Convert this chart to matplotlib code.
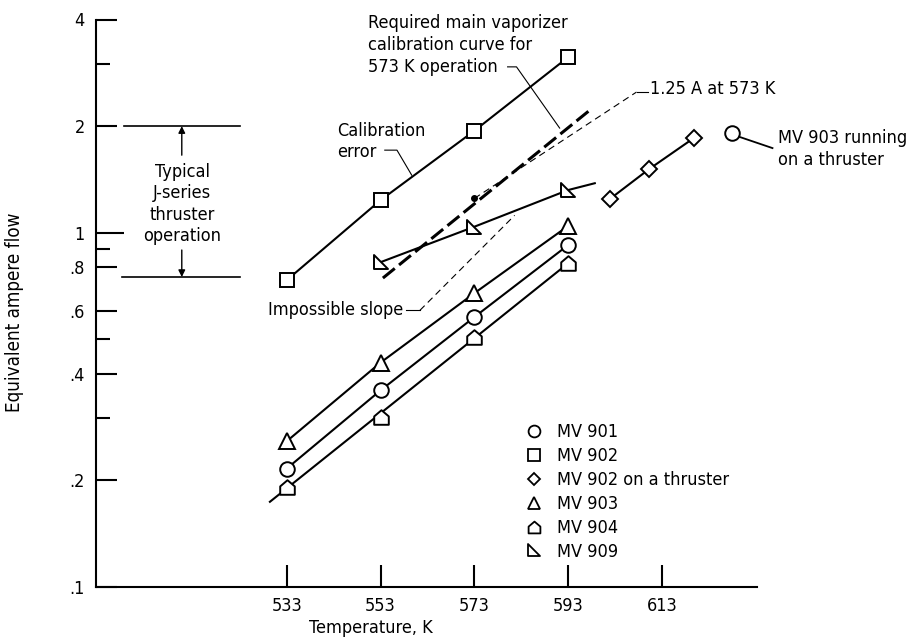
import matplotlib
matplotlib.use('Agg')
import matplotlib.pyplot as plt
from matplotlib import font_manager as fm
from matplotlib.path import Path
from matplotlib.lines import Line2D
from matplotlib.ticker import FixedLocator, NullFormatter

# pick a condensed face if one is installed
_fonts = [(f.name, f.stretch) for f in fm.fontManager.ttflist]
_names = {n for n, _ in _fonts}
FAMILY, STRETCH = 'Liberation Sans', 'normal'
if 'Liberation Sans Narrow' in _names:
    FAMILY, STRETCH = 'Liberation Sans Narrow', 'normal'
elif any(n == 'DejaVu Sans' and str(s) in ('condensed', '75', 'semi-condensed', '87') for n, s in _fonts):
    FAMILY, STRETCH = 'DejaVu Sans', 'condensed'
elif 'Roboto Condensed' in _names:
    FAMILY, STRETCH = 'Roboto Condensed', 'normal'
plt.rcParams['font.family'] = [FAMILY, 'DejaVu Sans']
plt.rcParams['font.stretch'] = STRETCH
plt.rcParams['font.size'] = 13
FS = 13

# ---------------- data ----------------
temps = [533, 553, 573, 593]
mv901 = [0.216, 0.359, 0.578, 0.923]
mv902 = [0.735, 1.236, 1.94, 3.13]
mv903 = [0.258, 0.43, 0.675, 1.045]
mv904 = [0.191, 0.301, 0.507, 0.82]
mv904_line_temp = [529.4, 593]
mv904_line_flow = [0.174, 0.82]
mv909_temp = [553, 573, 593]
mv909 = [0.826, 1.04, 1.32]
mv909_line_temp = [553, 573, 593, 598.7]
mv909_line_flow = [0.826, 1.04, 1.32, 1.38]
mv902_thr_temp = [601.9, 610.2, 619.8]
mv902_thr = [1.245, 1.51, 1.85]
mv903_thr_temp = [627.9]
mv903_thr = [1.91]
req_temp = [553.5, 598.2]
req_flow = [0.745, 2.25]
req_pt_temp = [573]
req_pt_flow = [1.25]
imp_temp = [561.4, 581.6]
imp_flow = [0.604, 1.12]
jseries_band = [0.75, 2.0]

x_ticks = [533, 553, 573, 593, 613]
y_major = [0.1, 0.2, 0.4, 0.6, 0.8, 1, 2, 4]
y_major_labels = ['.1', '.2', '.4', '.6', '.8', '1', '2', '4']
y_minor = [0.3, 0.5, 0.9, 3]

legend_labels = ['MV 901', 'MV 902', 'MV 902 on a thruster', 'MV 903', 'MV 904', 'MV 909']

# ---------------- markers ----------------
house = Path([(-1, -1), (1, -1), (1, 0.15), (0, 1), (-1, 0.15), (-1, -1)],
             [Path.MOVETO, Path.LINETO, Path.LINETO, Path.LINETO, Path.LINETO, Path.CLOSEPOLY])
rtri = Path([(-1, 1), (-1, -1), (1, -1), (-1, 1)],
            [Path.MOVETO, Path.LINETO, Path.LINETO, Path.CLOSEPOLY])

W, H = 921, 641
fig = plt.figure(figsize=(W / 100, H / 100), dpi=100)
ax = fig.add_axes([96 / W, 1 - 587 / H, (757 - 96) / W, (587 - 19.5) / H])
ax.set_yscale('log')
ax.set_xlim(492.3, 633.3)
ax.set_ylim(0.1, 4)

lw = 1.5
mk = dict(markerfacecolor='white', markeredgecolor='black', markeredgewidth=1.4, color='black', lw=lw)
mo = dict(ls='none', markerfacecolor='white', markeredgecolor='black', markeredgewidth=1.4)

ax.plot(temps, mv901, marker='o', ms=10.5, **mk, zorder=3)
ax.plot(temps, mv902, marker='s', ms=9.5, **mk, zorder=3)
ax.plot(temps, mv903, marker='^', ms=11, **mk, zorder=3)
ax.plot(mv904_line_temp, mv904_line_flow, color='black', lw=lw, zorder=2)
ax.plot(temps, mv904, marker=house, ms=10.5, **mo, zorder=3)
ax.plot(mv909_line_temp, mv909_line_flow, color='black', lw=lw, zorder=2)
ax.plot(mv909_temp, mv909, marker=rtri, ms=10.5, **mo, zorder=3)
ax.plot(mv902_thr_temp, mv902_thr, marker='D', ms=8, **mk, zorder=3)
ax.plot(mv903_thr_temp, mv903_thr, marker='o', ms=10.5, **mo, zorder=3)

# required calibration curve (heavy dashed) + 1.25 A point
ax.plot(req_temp, req_flow, color='black', lw=2.2, dashes=(5, 1.8), zorder=2)
ax.plot(req_pt_temp, req_pt_flow, 'o', color='black', ms=4, zorder=4)
# impossible slope (thin dashed)
ax.plot(imp_temp, imp_flow, color='black', lw=0.8, ls=(0, (6, 4)), zorder=2)

# ---------------- annotations ----------------
ann = dict(color='black', lw=0.8, clip_on=False)
ax.plot([573, 607.6], [1.25, 2.496], ls=(0, (6, 4)), **ann)
ax.plot([607.6, 610.0], [2.496, 2.496], **ann)
ax.plot([580.1, 582.0, 591.2], [2.94, 2.94, 1.975], **ann)
ax.plot([553.9, 556.5, 559.65], [1.711, 1.711, 1.454], **ann)
ax.plot([558.4, 561.4], [0.604, 0.604], **ann)
ax.plot([629.3, 636.6], [1.87, 1.734], color='black', lw=1.3, clip_on=False)
ax.plot([498.2, 523.0], [jseries_band[1], jseries_band[1]], color='black', lw=1.2, clip_on=False)
ax.plot([497.8, 523.0], [jseries_band[0], jseries_band[0]], color='black', lw=1.2, clip_on=False)
ax.annotate('', xy=(510.6, jseries_band[1]), xytext=(510.6, 1.656),
            arrowprops=dict(arrowstyle='-|>', color='black', lw=1.0, mutation_scale=10,
                            shrinkA=0, shrinkB=0))
ax.annotate('', xy=(510.6, jseries_band[0]), xytext=(510.6, 0.894),
            arrowprops=dict(arrowstyle='-|>', color='black', lw=1.0, mutation_scale=10,
                            shrinkA=0, shrinkB=0))


def ft(x, y, s, **kw):
    kw.setdefault('fontsize', FS)
    fig.text(x / W, 1 - y / H, s, **kw)


ft(368, 45, 'Required main vaporizer\ncalibration curve for\n573 K operation',
   ha='left', va='center', linespacing=1.25)
ft(337, 141.5, 'Calibration\nerror', ha='left', va='center', linespacing=1.25)
ft(182, 204, 'Typical\nJ-series\nthruster\noperation', ha='center', va='center',
   linespacing=1.25)
ft(403, 310, 'Impossible slope', ha='right', va='center')
ft(650, 89, '1.25 A at 573 K', ha='left', va='center')
ft(778, 149, 'MV 903 running\non a thruster', ha='left', va='center', linespacing=1.25)

# ---------------- axes styling ----------------
for s in ['top', 'right']:
    ax.spines[s].set_visible(False)
for s in ['left', 'bottom']:
    ax.spines[s].set_linewidth(1.5)

ax.set_xticks(x_ticks)
ax.set_xticklabels([str(t) for t in x_ticks])
ax.yaxis.set_major_locator(FixedLocator(y_major))
ax.set_yticklabels(y_major_labels)
ax.yaxis.set_minor_locator(FixedLocator(y_minor))
ax.yaxis.set_minor_formatter(NullFormatter())
ax.xaxis.set_minor_locator(FixedLocator([]))
ax.tick_params(axis='both', which='major', direction='in', length=15, width=1.5, labelsize=FS)
ax.tick_params(axis='y', which='major', pad=8)
ax.tick_params(axis='x', which='major', length=16, pad=7)
ax.tick_params(axis='y', which='minor', direction='in', length=10, width=1.5)
ax.yaxis.get_major_ticks()[5].tick1line.set_markersize(20)

ft(371, 628, 'Temperature, K', ha='center', va='center')
ft(15, 312, 'Equivalent ampere flow', ha='center', va='center', rotation=90, fontsize=13.5)

# ---------------- legend ----------------
lkw = dict(ls='none', markerfacecolor='white', markeredgecolor='black', markeredgewidth=1.3)
handles = [
    Line2D([], [], marker='o', ms=8.5, **lkw),
    Line2D([], [], marker='s', ms=8, **lkw),
    Line2D([], [], marker='D', ms=6.5, **lkw),
    Line2D([], [], marker='^', ms=9, **lkw),
    Line2D([], [], marker=house, ms=8.5, **lkw),
    Line2D([], [], marker=rtri, ms=8.5, **lkw),
]
fig.legend(handles, legend_labels, loc='upper left', bbox_to_anchor=(525 / W, 1 - 423 / H),
           frameon=False, borderpad=0, borderaxespad=0, handlelength=1.0, handletextpad=0.75,
           labelspacing=0.33, fontsize=FS)

fig.savefig('out.png', dpi=100)
